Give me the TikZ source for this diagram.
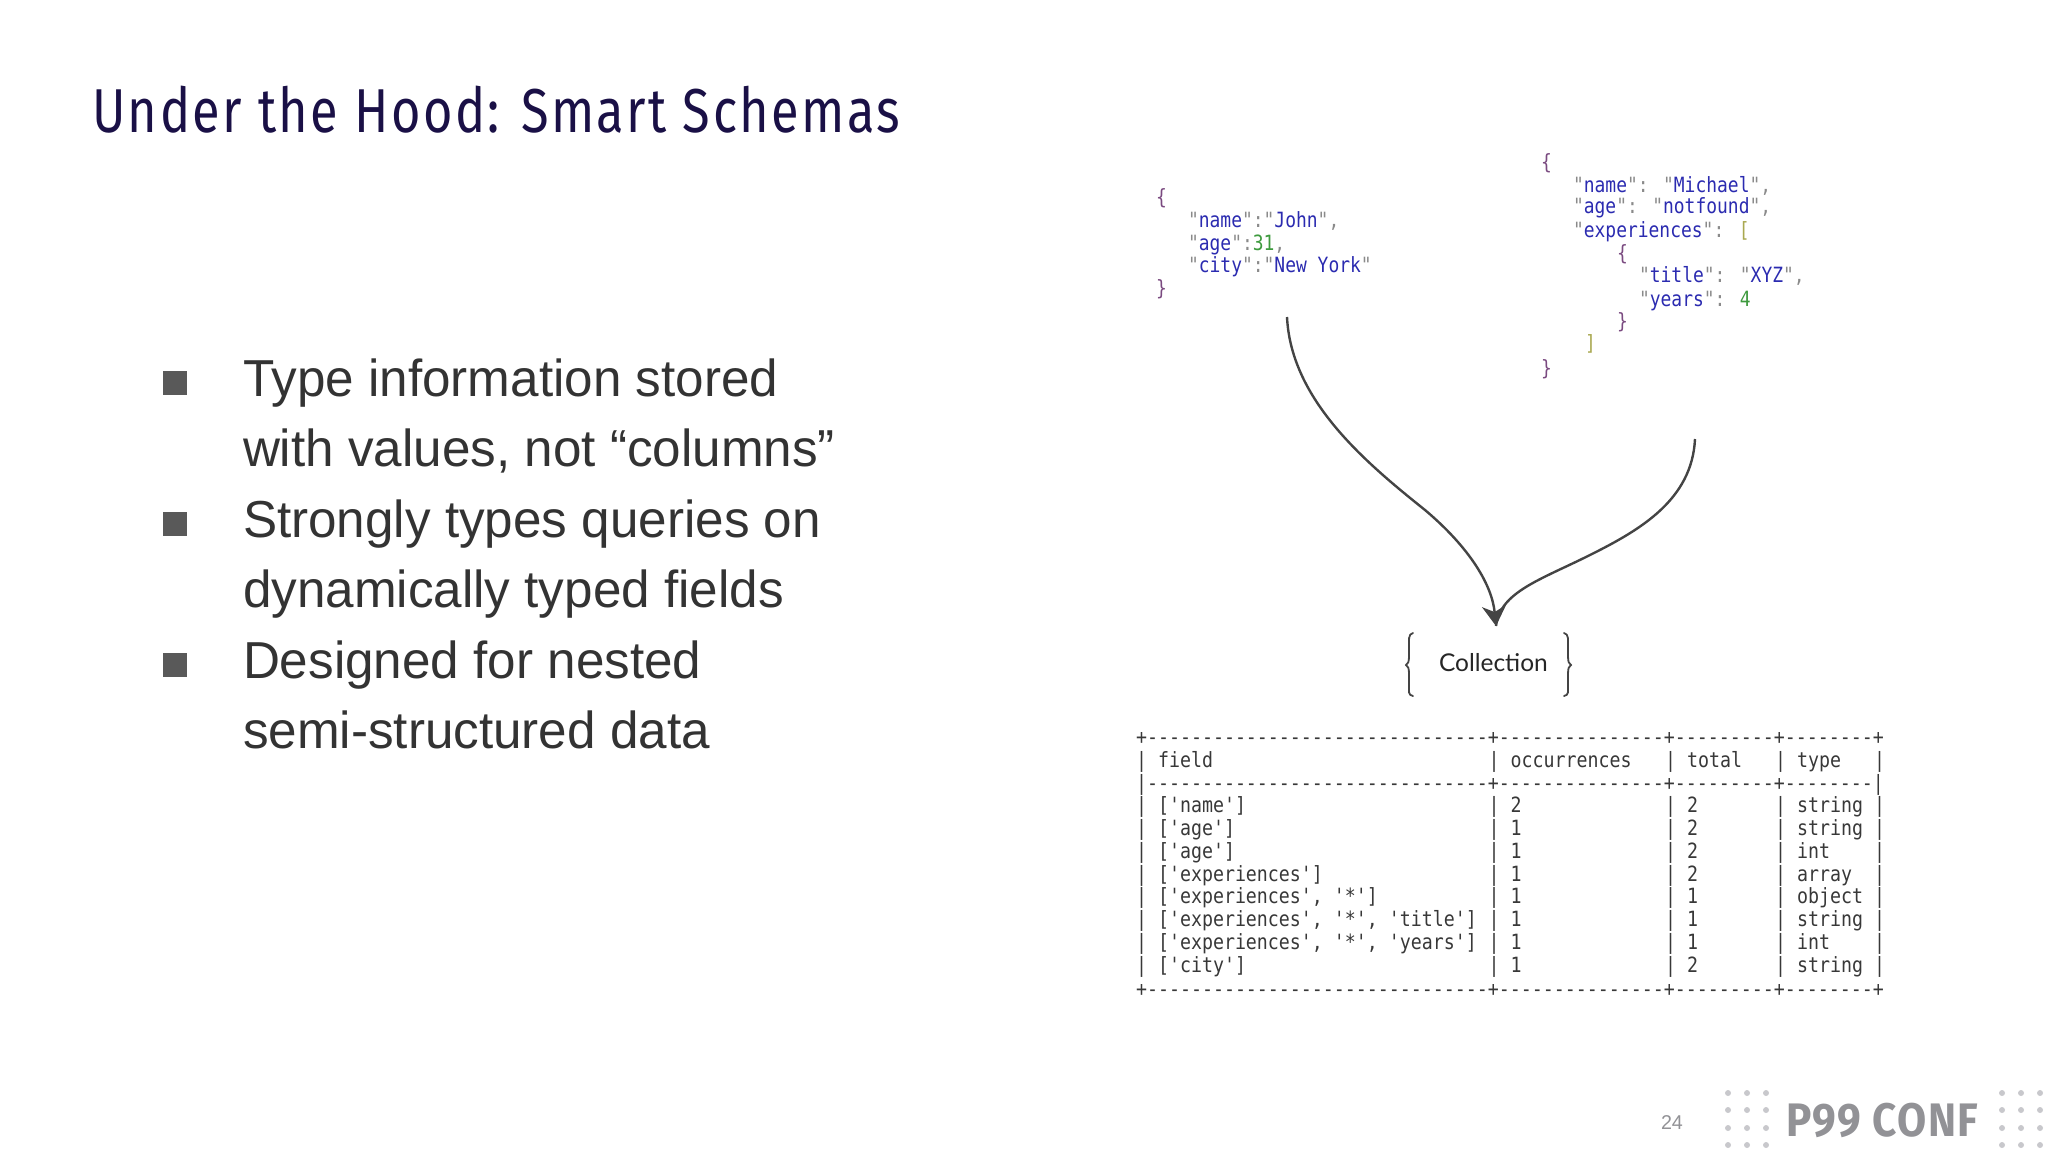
\documentclass[tikz,border=0pt]{standalone}
\usepackage{fontspec}
\usetikzlibrary{arrows.meta}
\setmainfont{Liberation Sans}
\newfontfamily\titlefont[FakeStretch=0.815,LetterSpace=4]{Fira Sans}
\newfontfamily\bodyfont[FakeStretch=0.985]{Liberation Sans}
\newfontfamily\monofont[FakeStretch=0.87,Ligatures=NoCommon]{DejaVu Sans Mono}
\newfontfamily\jsonfont[FakeStretch=0.855,Ligatures=NoCommon]{DejaVu Sans Mono}
\newfontfamily\logofont[FakeStretch=0.9,LetterSpace=3]{Fira Sans}
\newfontfamily\collfont{Lato}
\definecolor{titlecol}{HTML}{1A1046}
\definecolor{bodycol}{HTML}{333333}
\definecolor{bulletcol}{HTML}{595959}
\definecolor{jkey}{HTML}{2B2BB0}
\definecolor{jnum}{HTML}{3E9A3E}
\definecolor{jbrace}{HTML}{7A4A80}
\definecolor{jbrack}{HTML}{A9A850}
\definecolor{jpunct}{HTML}{8A8A8A}
\definecolor{curvecol}{HTML}{444444}
\definecolor{logocol}{HTML}{929296}
\definecolor{dotcol}{HTML}{C8C8CC}
\newcommand{\Q}{\textcolor{jpunct}{"}}
\newcommand{\C}{\textcolor{jpunct}{,}}
\newcommand{\K}[1]{\Q\textcolor{jkey}{#1}\Q}
\newcommand{\D}{\textcolor{jpunct}{:}}
\newcommand{\N}[1]{\textcolor{jnum}{#1}}
\newcommand{\BR}[1]{\textcolor{jbrace}{#1}}
\newcommand{\trow}[6]{%
  \node[cell] (f#1) at (1136,#2) {| #3};
  \node[cell] (o#1) at (1488.5,#2) {| #4};
  \node[cell] (t#1) at (1665,#2) {| #5};
  \node[cell] (y#1) at (1775,#2) {| #6};
  \node[cell] (e#1) at (1874,#2) {|};}
\tikzset{
  x=1pt,y=-1pt,
  txt/.style={inner sep=0pt,outer sep=0pt,anchor=base west},
  bodyline/.style={txt,font=\bodyfont\fontsize{52}{60}\selectfont,text=bodycol},
  bulletbox/.style={inner sep=0pt,minimum size=24pt,fill=bulletcol},
  cell/.style={txt,font=\monofont\fontsize{21}{24}\selectfont,text=black!78},
  json/.style={txt,font=\jsonfont\fontsize{21}{24}\selectfont,text=jkey},
  curve/.style={draw=curvecol,line width=2.4pt},
  brace/.style={draw=curvecol,line width=1.8pt,line cap=round},
  dot/.style={circle,fill=dotcol,inner sep=0pt,minimum size=6pt},
}
\begin{document}
\begin{tikzpicture}
\useasboundingbox (0,0) rectangle (2048,1152);
\node[txt,font=\titlefont\fontsize{62}{70}\selectfont,text=titlecol] (title) at (92,132) {Under the Hood: Smart Schemas};

\node[bulletbox] (b1) at (175,383) {};
\node[bulletbox] (b2) at (175,524) {};
\node[bulletbox] (b3) at (175,665) {};
\node[bodyline] (l1) at (243,396) {Type information stored};
\node[bodyline] (l2) at (243,466.5) {with values, not “columns”};
\node[bodyline] (l3) at (243,537) {Strongly types queries on};
\node[bodyline] (l4) at (243,607.5) {dynamically typed fields};
\node[bodyline] (l5) at (243,678) {Designed for nested};
\node[bodyline] (l6) at (243,748.5) {semi-structured data};

% left JSON
\node[json] (a0) at (1156,204) {\BR{\{}};
\node[json] (a1) at (1188,227) {\K{name}\D\K{John}\C};
\node[json] (a2) at (1188,250) {\K{age}\D\N{31}\C};
\node[json] (a3) at (1188,272) {\K{city}\D\K{New York}};
\node[json] (a4) at (1156,295) {\BR{\}}};

% right JSON
\node[json] (m0) at (1541,169) {\BR{\{}};
\node[json] (m1) at (1573,192) {\K{name}\D{} \K{Michael}\C};
\node[json] (m2) at (1573,213) {\K{age}\D{} \K{notfound}\C};
\node[json] (m3) at (1573,237) {\K{experiences}\D{} \textcolor{jbrack}{[}};
\node[json] (m4) at (1617,260) {\BR{\{}};
\node[json] (m5) at (1639,282) {\K{title}\D{} \K{XYZ}\C};
\node[json] (m6) at (1639,306) {\K{years}\D{} \N{4}};
\node[json] (m7) at (1617,328) {\BR{\}}};
\node[json] (m8) at (1585,350) {\textcolor{jbrack}{]}};
\node[json] (m9) at (1541,375) {\BR{\}}};

% connectors
\coordinate (sa) at (1287,317);
\coordinate (sb) at (1695,439);
\coordinate (tip) at (1496,626);
\path[curve,-{Stealth[length=20pt,width=24pt,inset=6pt]}] (sa) .. controls (1291,400) and (1365,462) .. (1425,510) .. controls (1470,548) and (1492,585) .. (tip);
\path[curve] (sb) .. controls (1692,500) and (1640,530) .. (1590,555) .. controls (1540,580) and (1500,592) .. (tip);

% collection
\node[txt,font=\collfont\fontsize{24.5}{30}\selectfont,text=black!85] (coll) at (1439,671) {Collection};
\draw[brace] (1413,633) .. controls (1408,634) and (1409,640) .. (1409,648) -- (1409,656) .. controls (1409,662) and (1408,664) .. (1406,665) .. controls (1408,666) and (1409,668) .. (1409,674) -- (1409,684) .. controls (1409,692) and (1408,695) .. (1413,696);
\draw[brace] (1564,633) .. controls (1569,634) and (1568,640) .. (1568,648) -- (1568,656) .. controls (1568,662) and (1569,664) .. (1571,665) .. controls (1569,666) and (1568,668) .. (1568,674) -- (1568,684) .. controls (1568,692) and (1569,695) .. (1564,696);

% table
\node[cell] (rtop) at (1136,744) {+-------------------------------+---------------+---------+--------+};
\trow{h}{767}{field}{occurrences}{total}{type}
\node[cell] (rmid) at (1136,790) {|-------------------------------+---------------+---------+--------|};
\trow{1}{812}{['name']}{2}{2}{string}
\trow{2}{835}{['age']}{1}{2}{string}
\trow{3}{858}{['age']}{1}{2}{int}
\trow{4}{881}{['experiences']}{1}{2}{array}
\trow{5}{903}{['experiences', '*']}{1}{1}{object}
\trow{6}{926}{['experiences', '*', 'title']}{1}{1}{string}
\trow{7}{949}{['experiences', '*', 'years']}{1}{1}{int}
\trow{8}{972}{['city']}{1}{2}{string}
\node[cell] (rbot) at (1136,996) {+-------------------------------+---------------+---------+--------+};

% footer
\node[txt,font=\bodyfont\fontsize{20}{24}\selectfont,text=logocol] (page) at (1661,1129) {24};
\node[txt,font=\logofont\bfseries\fontsize{47}{50}\selectfont,text=logocol] (logo) at (1786,1136) {P99 CONF};
\foreach \px in {1728,1747,1766,2002,2021,2040}
  \foreach \py in {1093,1110,1128,1145}
    \node[dot] (d\px-\py) at (\px,\py) {};
\end{tikzpicture}
\end{document}
